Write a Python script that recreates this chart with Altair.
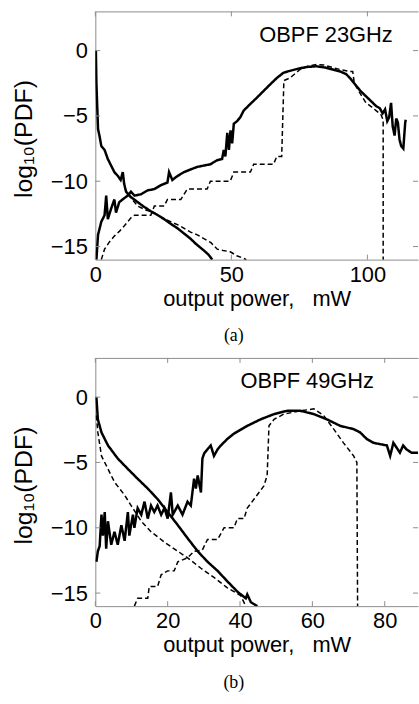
import altair as alt
import pandas as pd

# ---------------- Panel (a): OBPF 23GHz ----------------
a_sd_x = [0.2, 0.4, 1.0, 1.6, 2.2, 3.4, 4.6, 5.8, 7.0, 8.3, 9.3, 10.1, 10.6, 11.3, 13.0, 15.6, 17.5, 20.4, 23.0, 25.3, 28.0, 30.2, 32.6, 35.0, 37.0, 39.9, 41.5, 43.0]
a_sd_y = [0.0, -2.5, -6.0, -6.6, -7.3, -7.6, -8.3, -8.8, -9.3, -9.6, -9.9, -9.3, -10.2, -10.8, -11.2, -11.6, -11.9, -12.3, -12.6, -12.9, -13.3, -13.6, -14.0, -14.4, -14.8, -15.3, -15.6, -16.0]

a_dd_x = [12.0, 15.6, 18.5, 21.6, 24.5, 27.7, 31.0, 35.0, 37.5, 39.9, 42.5, 44.8, 47.0, 49.6, 52.0, 54.5, 55.5]
a_dd_y = [-11.0, -11.9, -12.2, -12.4, -12.8, -13.1, -13.4, -13.9, -14.1, -14.4, -14.7, -15.2, -15.3, -15.4, -15.7, -15.9, -16.0]

a_sr_x = [0.4, 1.0, 2.2, 3.4, 4.0, 4.6, 5.8, 7.0, 7.6, 8.8, 10.0, 11.9, 13.1, 14.4, 16.8, 19.2, 21.7, 24.1, 26.5, 27.1, 28.3, 30.2, 32.6, 35.0, 37.5, 39.9, 42.3, 44.7, 46.6, 47.2, 47.8, 48.5, 49.1, 49.7, 50.3, 50.9, 52.1, 53.3, 54.5, 56.9, 59.4, 61.8, 64.2, 66.7, 69.1, 71.5, 75.2, 78.0, 81.3, 84.5, 87.3, 90.0, 92.2, 94.0, 95.9, 97.5, 99.5, 101.5, 103.2, 104.5, 105.6, 106.5, 107.3, 108.0, 108.7, 109.3, 110.0, 110.6, 111.2, 111.8, 112.4, 113.2, 113.9, 114.1]
a_sr_y = [-16.0, -14.1, -13.1, -12.6, -11.1, -12.9, -12.1, -11.4, -12.4, -11.6, -11.4, -11.1, -10.8, -11.1, -11.0, -10.7, -10.6, -10.3, -10.1, -9.3, -9.9, -9.6, -9.3, -9.1, -8.9, -8.8, -8.7, -8.4, -8.3, -7.6, -8.1, -6.3, -7.6, -6.1, -7.1, -5.6, -5.4, -5.1, -4.6, -4.1, -3.6, -3.1, -2.6, -2.1, -1.7, -1.55, -1.35, -1.25, -1.2, -1.3, -1.45, -1.6, -1.8, -2.2, -2.7, -3.1, -3.5, -3.9, -4.25, -4.4, -4.8, -4.5, -5.4, -5.1, -4.0, -5.8, -6.5, -5.2, -5.5, -6.8, -7.3, -7.5, -5.5, -5.3]

a_dr_x = [2.2, 3.4, 5.0, 7.0, 9.0, 10.7, 13.1, 14.4, 20.4, 21.7, 25.3, 26.5, 31.4, 33.8, 41.1, 42.3, 49.6, 50.9, 57.0, 58.2, 65.5, 66.7, 68.5, 69.3, 71.5, 75.2, 78.0, 81.3, 84.0, 87.3, 90.0, 93.4, 94.6, 95.2, 97.1, 99.5, 101.5, 103.2, 105.0, 105.8, 105.8]
a_dr_y = [-16.0, -15.2, -14.7, -14.2, -13.8, -13.4, -12.8, -12.6, -12.6, -11.9, -11.9, -11.4, -11.4, -10.6, -10.6, -10.0, -10.0, -9.3, -9.3, -8.7, -8.7, -8.1, -8.1, -2.3, -2.1, -1.45, -1.2, -1.07, -1.1, -1.3, -1.45, -1.6, -1.6, -2.5, -3.2, -4.0, -4.3, -4.6, -4.9, -5.3, -16.0]

# ---------------- Panel (b): OBPF 49GHz ----------------
b_sd_x = [0.3, 0.7, 1.7, 3.5, 6.2, 9.0, 11.7, 14.5, 17.2, 20.0, 22.8, 25.5, 28.3, 31.0, 33.8, 36.5, 39.3, 41.6, 42.0, 43.0, 44.8]
b_sd_y = [0.0, -1.7, -2.7, -3.7, -4.7, -5.5, -6.25, -7.0, -7.8, -8.8, -9.8, -10.8, -11.8, -12.6, -13.3, -14.1, -14.9, -15.4, -15.1, -15.7, -16.0]

b_dd_x = [0.3, 0.7, 1.7, 3.5, 5.3, 8.1, 9.9, 12.7, 15.4, 19.1, 22.8, 25.5, 29.2, 32.8, 36.5, 40.2, 41.6]
b_dd_y = [-1.4, -2.7, -4.5, -5.5, -6.5, -7.5, -8.3, -9.5, -10.3, -11.1, -11.8, -12.3, -13.1, -13.8, -14.6, -15.2, -16.0]

b_sr_x = [0.3, 0.7, 1.2, 1.7, 2.1, 2.6, 3.0, 3.5, 4.4, 5.3, 6.2, 7.2, 8.1, 9.0, 9.4, 10.4, 10.8, 11.7, 12.7, 13.6, 14.5, 15.4, 16.3, 17.2, 18.2, 19.1, 20.0, 20.9, 21.4, 22.8, 24.1, 25.5, 26.4, 27.3, 27.8, 28.3, 29.2, 29.6, 30.1, 31.0, 31.9, 32.8, 33.8, 34.7, 36.5, 38.3, 42.0, 45.7, 49.4, 53.0, 56.7, 60.4, 64.0, 67.7, 71.4, 73.2, 75.0, 76.9, 78.7, 80.6, 81.5, 82.4, 84.2, 85.1, 86.0, 87.4, 89.3]
b_sr_y = [-12.6, -11.8, -11.4, -9.0, -10.6, -8.8, -11.6, -9.5, -11.3, -10.3, -11.3, -9.8, -11.0, -8.8, -10.6, -9.0, -10.0, -8.5, -9.0, -8.0, -9.3, -8.3, -8.8, -8.3, -9.0, -8.5, -9.3, -7.3, -9.0, -8.3, -9.0, -8.0, -8.3, -6.25, -7.0, -6.0, -7.3, -4.7, -4.3, -4.0, -3.7, -4.5, -4.0, -3.7, -3.2, -2.8, -2.2, -1.7, -1.3, -1.05, -1.05, -1.3, -1.7, -2.2, -2.45, -2.7, -3.2, -3.5, -3.6, -3.7, -4.5, -3.5, -4.25, -3.7, -4.0, -4.25, -4.25]

b_dr_x = [10.8, 11.7, 14.5, 14.9, 17.2, 18.2, 20.0, 21.8, 22.8, 25.5, 27.3, 29.6, 31.0, 33.8, 35.6, 38.3, 39.3, 41.1, 42.0, 43.9, 46.6, 47.5, 48.0, 49.4, 52.1, 56.7, 60.4, 63.1, 65.9, 68.6, 71.4, 72.3, 72.5]
b_dr_y = [-16.0, -15.4, -15.4, -14.5, -14.5, -13.6, -13.3, -13.3, -12.6, -12.3, -11.8, -11.7, -10.9, -10.9, -10.0, -10.0, -9.3, -9.3, -8.5, -7.8, -6.8, -6.0, -2.2, -1.7, -1.3, -1.05, -0.9, -1.4, -2.45, -3.5, -4.5, -5.0, -16.0]

y_ticks = [0, -5, -10, -15]
a_x_ticks = [0, 50, 100]
b_x_ticks = [0, 20, 40, 60, 80]
labels = ["OBPF 23GHz", "OBPF 49GHz"]
captions = ["(a)", "(b)"]
x_title = "output power,\u00a0\u00a0\u00a0mW"
y_title = "log\u2081\u2080(PDF)"

W, H = 325, 250
FONT = "Liberation Sans"
GRAY = "#8c8c8c"


def frame(series):
    rows = []
    for name, style, xs, ys in series:
        for i, (x, y) in enumerate(zip(xs, ys)):
            rows.append({"x": x, "y": y, "series": name, "style": style, "i": i})
    return pd.DataFrame(rows)


def panel(series, xmax, xticks, label, lx, ly, caption):
    df = frame(series)
    xs = alt.Scale(domain=[0, xmax], nice=False, zero=False)
    ys = alt.Scale(domain=[-16, 3], nice=False, zero=False)
    lines = alt.Chart(df).mark_line(clip=True, color="black").encode(
        x=alt.X("x:Q", scale=xs, axis=alt.Axis(
            orient="bottom", values=xticks, ticks=False, grid=False,
            domainColor=GRAY, labelFont=FONT, labelFontSize=22,
            labelColor="black", labelPadding=5, labelFlush=False,
            title=x_title, titleFont=FONT, titleFontSize=22,
            titleFontWeight="normal", titleColor="black", titlePadding=3)),
        y=alt.Y("y:Q", scale=ys, axis=alt.Axis(
            orient="left", values=y_ticks, ticks=False, grid=False,
            domainColor=GRAY, labelFont=FONT, labelFontSize=22,
            labelColor="black", labelPadding=8, labelFlush=False,
            labelExpr="datum.value < 0 ? '\u2212' + abs(datum.value) : datum.label",
            title=y_title, titleFont=FONT, titleFontSize=25,
            titleFontWeight="normal", titleColor="black",
            titleX=-72, titleY=128, titleBaseline="middle")),
        detail="series:N",
        order="i:Q",
        strokeDash=alt.StrokeDash("style:N", scale=alt.Scale(
            domain=["solid", "dashed"], range=[[1, 0], [5, 3]]), legend=None),
        strokeWidth=alt.StrokeWidth("style:N", scale=alt.Scale(
            domain=["solid", "dashed"], range=[2.5, 1.5]), legend=None),
    )
    xt = pd.DataFrame({"t": xticks})
    yt = pd.DataFrame({"t": y_ticks})
    top = alt.Chart(xt).mark_rule(color=GRAY, strokeWidth=1).encode(
        x=alt.X("t:Q", scale=xs, axis=alt.Axis(orient="top", labels=False, ticks=False,
                                                 grid=False, domainColor=GRAY, title=None)),
        y=alt.value(0), y2=alt.value(5))
    bot = alt.Chart(xt).mark_rule(color=GRAY, strokeWidth=1).encode(
        x=alt.X("t:Q", scale=xs, axis=None),
        y=alt.value(H), y2=alt.value(H - 5))
    lft = alt.Chart(yt).mark_rule(color=GRAY, strokeWidth=1).encode(
        y=alt.Y("t:Q", scale=ys, axis=None),
        x=alt.value(0), x2=alt.value(5))
    rgt = alt.Chart(yt).mark_rule(color=GRAY, strokeWidth=1).encode(
        y=alt.Y("t:Q", scale=ys, axis=None),
        x=alt.value(W - 5), x2=alt.value(W))
    txt = alt.Chart(pd.DataFrame({"x": [lx], "y": [ly], "t": [label]})).mark_text(
        font=FONT, fontSize=22, color="black", align="center", baseline="middle").encode(
        x=alt.X("x:Q", scale=xs, axis=None), y=alt.Y("y:Q", scale=ys, axis=None), text="t:N")
    return alt.layer(lines, top, bot, lft, rgt, txt).resolve_axis(
        x="independent", y="independent").properties(
        width=W, height=H,
        title=alt.TitleParams(caption, orient="bottom", font="Liberation Serif",
                              fontSize=18, fontWeight="normal", color="black",
                              dx=-23, offset=18))


pa = panel([
    ("a_sd", "solid", a_sd_x, a_sd_y),
    ("a_dd", "dashed", a_dd_x, a_dd_y),
    ("a_sr", "solid", a_sr_x, a_sr_y),
    ("a_dr", "dashed", a_dr_x, a_dr_y),
], 118.6, a_x_ticks, labels[0], 84.8, 1.2, captions[0])

pb = panel([
    ("b_sd", "solid", b_sd_x, b_sd_y),
    ("b_dd", "dashed", b_dd_x, b_dd_y),
    ("b_sr", "solid", b_sr_x, b_sr_y),
    ("b_dr", "dashed", b_dr_x, b_dr_y),
], 89.2, b_x_ticks, labels[1], 58.6, 1.2, captions[1])

chart = alt.vconcat(pa, pb, spacing=12).properties(
    padding={"left": 11, "top": 8, "right": 0, "bottom": 0},
    background="white").configure_view(stroke=None)

chart.save("out.html", embed_options={"renderer": "svg", "actions": False})
